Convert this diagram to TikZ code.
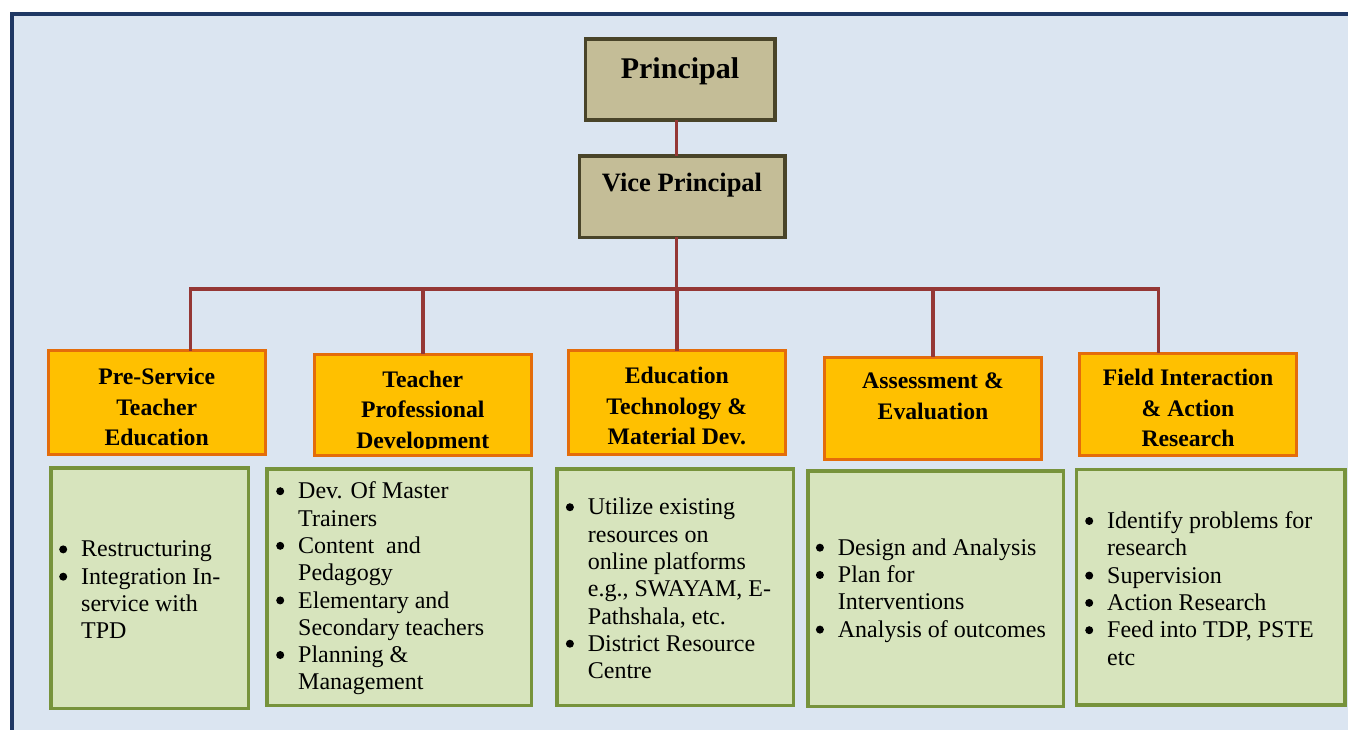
\documentclass[tikz,border=0pt]{standalone}
\usepackage{fontspec}
\setmainfont{Liberation Serif}
\definecolor{bgblue}{RGB}{219,229,241}
\definecolor{framec}{RGB}{31,56,100}
\definecolor{tanfill}{RGB}{196,189,151}
\definecolor{tanline}{RGB}{73,68,41}
\definecolor{orfill}{RGB}{255,192,0}
\definecolor{orline}{RGB}{228,108,10}
\definecolor{grfill}{RGB}{215,228,189}
\definecolor{grline}{RGB}{119,147,60}
\definecolor{connc}{RGB}{149,55,53}
\newlength\hangw \setlength\hangw{22pt}
\newcommand\bul{\raisebox{3.6pt}{\tikz[x=1pt,y=1pt]\fill[black] (0,0) circle (4pt);}}
\newcommand\itm[1]{\makebox[\hangw][l]{\bul}#1}
\newcommand\cnt[1]{\hspace*{\hangw}#1}
\tikzset{
  tanbox/.style={draw=tanline, fill=tanfill, line width=3.5pt, inner sep=0, outer sep=0},
  orbox/.style={draw=orline, fill=orfill, line width=3pt, inner sep=0, outer sep=0},
  grbox/.style={draw=grline, fill=grfill, line width=3.5pt, inner sep=0, outer sep=0},
  conn/.style={draw=connc, line width=3.4pt},
  toptext/.style={font=\bfseries, anchor=base, inner sep=0},
  htext/.style={font=\bfseries\fontsize{23.7}{30.5}\selectfont, align=center, anchor=north, inner sep=0},
  btext/.style={font=\fontsize{24}{27.3}\selectfont, align=left, anchor=west, inner sep=0}
}
\begin{document}
\begin{tikzpicture}[x=1pt,y=-1pt]
\useasboundingbox (0,0) rectangle (1348,729);
\clip (0,0) rectangle (1348,729);
% background and frame
\fill[bgblue] (12,14) rectangle (1400,800);
\draw[framec, line width=4pt] (12,800) -- (12,14) -- (1400,14);

% top boxes
\node[tanbox, minimum width=189.3pt, minimum height=81pt] (principal) at (680.3,79.5) {};
\node[toptext, font=\bfseries\fontsize{30}{34}\selectfont] (principalT) at (680,78.3) {Principal};
\node[tanbox, minimum width=205.5pt, minimum height=81.2pt] (vp) at (682.2,196.7) {};
\node[toptext, font=\bfseries\fontsize{26.5}{30}\selectfont] (vpT) at (682,191.7) {Vice Principal};

% header boxes
\node[orbox, minimum width=217pt, minimum height=103.7pt] (h1) at (156.7,402.7) {};
\node[orbox, minimum width=217.3pt, minimum height=101.5pt] (h2) at (422.8,405.2) {};
\node[orbox, minimum width=217pt, minimum height=104pt] (h3) at (676.8,402.5) {};
\node[orbox, minimum width=217pt, minimum height=102pt] (h4) at (933,408.2) {};
\node[orbox, minimum width=217pt, minimum height=102.3pt] (h5) at (1188,404.3) {};

\node[htext] (h1T) at (156.7,368) {Pre-Service\\Teacher\\Education};
\begin{scope}
\clip (314,354) rectangle (532,448);
\node[htext] (h2T) at (422.8,370.7) {Teacher\\Professional\\Development};
\end{scope}
\node[htext] (h3T) at (676.8,367.3) {Education\\Technology \&\\Material Dev.};
\node[htext] (h4T) at (933,373) {Assessment \&\\Evaluation};
\node[htext] (h5T) at (1188,369) {Field Interaction\\\& Action\\Research};

% green boxes
\node[grbox, minimum width=197.5pt, minimum height=240.5pt] (g1) at (149.5,588) {};
\node[grbox, minimum width=264.5pt, minimum height=236.5pt] (g2) at (399,587) {};
\node[grbox, minimum width=236.5pt, minimum height=236.5pt] (g3) at (675,587) {};
\node[grbox, minimum width=255.5pt, minimum height=235.5pt] (g4) at (935.5,588.5) {};
\node[grbox, minimum width=268.2pt, minimum height=235.2pt] (g5) at (1210.8,587.3) {};

\node[btext] (g1T) at (59,590) {\itm{Restructuring}\\\itm{Integration In-}\\\cnt{service with}\\\cnt{TPD}};
\node[btext] (g2T) at (276,588.5) {\itm{Dev. Of Master}\\\cnt{Trainers}\\\itm{Content\ \ and}\\\cnt{Pedagogy}\\\itm{Elementary and}\\\cnt{Secondary teachers}\\\itm{Planning \&}\\\cnt{Management}};
\node[btext] (g3T) at (565.7,588.5) {\itm{Utilize existing}\\\cnt{resources on}\\\cnt{online platforms}\\\cnt{e.g., SWAYAM, E-}\\\cnt{Pathshala, etc.}\\\itm{District Resource}\\\cnt{Centre}};
\node[btext] (g4T) at (815.7,590.5) {\itm{Design and Analysis}\\\itm{Plan for}\\\cnt{Interventions}\\\itm{Analysis of outcomes}};
\node[btext] (g5T) at (1085,588.5) {\itm{Identify problems for}\\\cnt{research}\\\itm{Supervision}\\\itm{Action Research}\\\itm{Feed into TDP, PSTE}\\\cnt{etc}};

% connectors
\coordinate (vx) at (676.7,289);
\coordinate (d1) at (190.7,289);
\coordinate (d5) at (1158.7,289);
\draw[conn] (vx |- principal.south) -- (vx |- vp.north);
\draw[conn] (vx |- vp.south) -- (vx);
\draw[conn, line cap=rect] (d1) -- (d5);
\draw[conn] (d1) -- (d1 |- h1.north);
\draw[conn] (h2.north |- d1) -- (h2.north);
\draw[conn] (h3.north |- d1) -- (h3.north);
\draw[conn] (h4.north |- d1) -- (h4.north);
\draw[conn] (d5) -- (d5 |- h5.north);
\end{tikzpicture}
\end{document}
